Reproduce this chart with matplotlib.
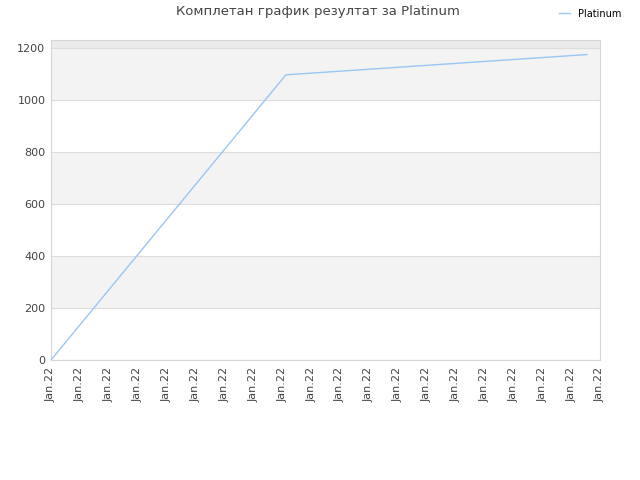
import numpy as np
import matplotlib
matplotlib.use("Agg")
from matplotlib import pyplot as plt

# data (x in tick units)
x_pts = [0.0, 8.13, 18.55]
y_pts = [0, 1097, 1175]
tick_labels = ['Jan.22'] * 20
series_name = 'Platinum'
title = 'Комплетан график резултат за Platinum'

fig = plt.figure(figsize=(6.4, 4.8), dpi=100)
ax = fig.add_axes([51/640, 120/480, 549/640, 320/480])

ymax = 1231
# alternating bands
for lo in range(0, 1400, 200):
    hi = min(lo + 200, ymax)
    if (lo // 200) % 2 == 1:
        ax.axhspan(lo, hi, color='#f3f3f3', lw=0, zorder=0)
ax.axhspan(1200, ymax, color='#ebebeb', lw=0, zorder=0)

ax.plot(x_pts, y_pts, color='#99c6f5', lw=1.0, zorder=3, label=series_name)

ax.set_xlim(0, 19)
ax.set_ylim(0, ymax)
ax.set_xticks(np.arange(20))
ax.set_xticklabels(tick_labels, rotation=90, fontsize=8, color='#444444')
ax.set_yticks(np.arange(0, 1201, 200))
ax.tick_params(axis='y', labelsize=8, labelcolor='#444444', length=0, pad=4)
ax.tick_params(axis='x', length=0, pad=5)
ax.yaxis.grid(True, color='#dddddd', lw=0.8)
ax.set_axisbelow(True)
for s in ax.spines.values():
    s.set_color('#d6d6d6')

fig.text(318/640, 1 - 12/480, title, ha='center', va='center', fontsize=9.5, color='#444444')
fig.legend(loc='upper right', bbox_to_anchor=(0.985, 1.0), frameon=False, fontsize=7,
           handlelength=1.2, handletextpad=0.8)

fig.savefig('out.png', dpi=100)
